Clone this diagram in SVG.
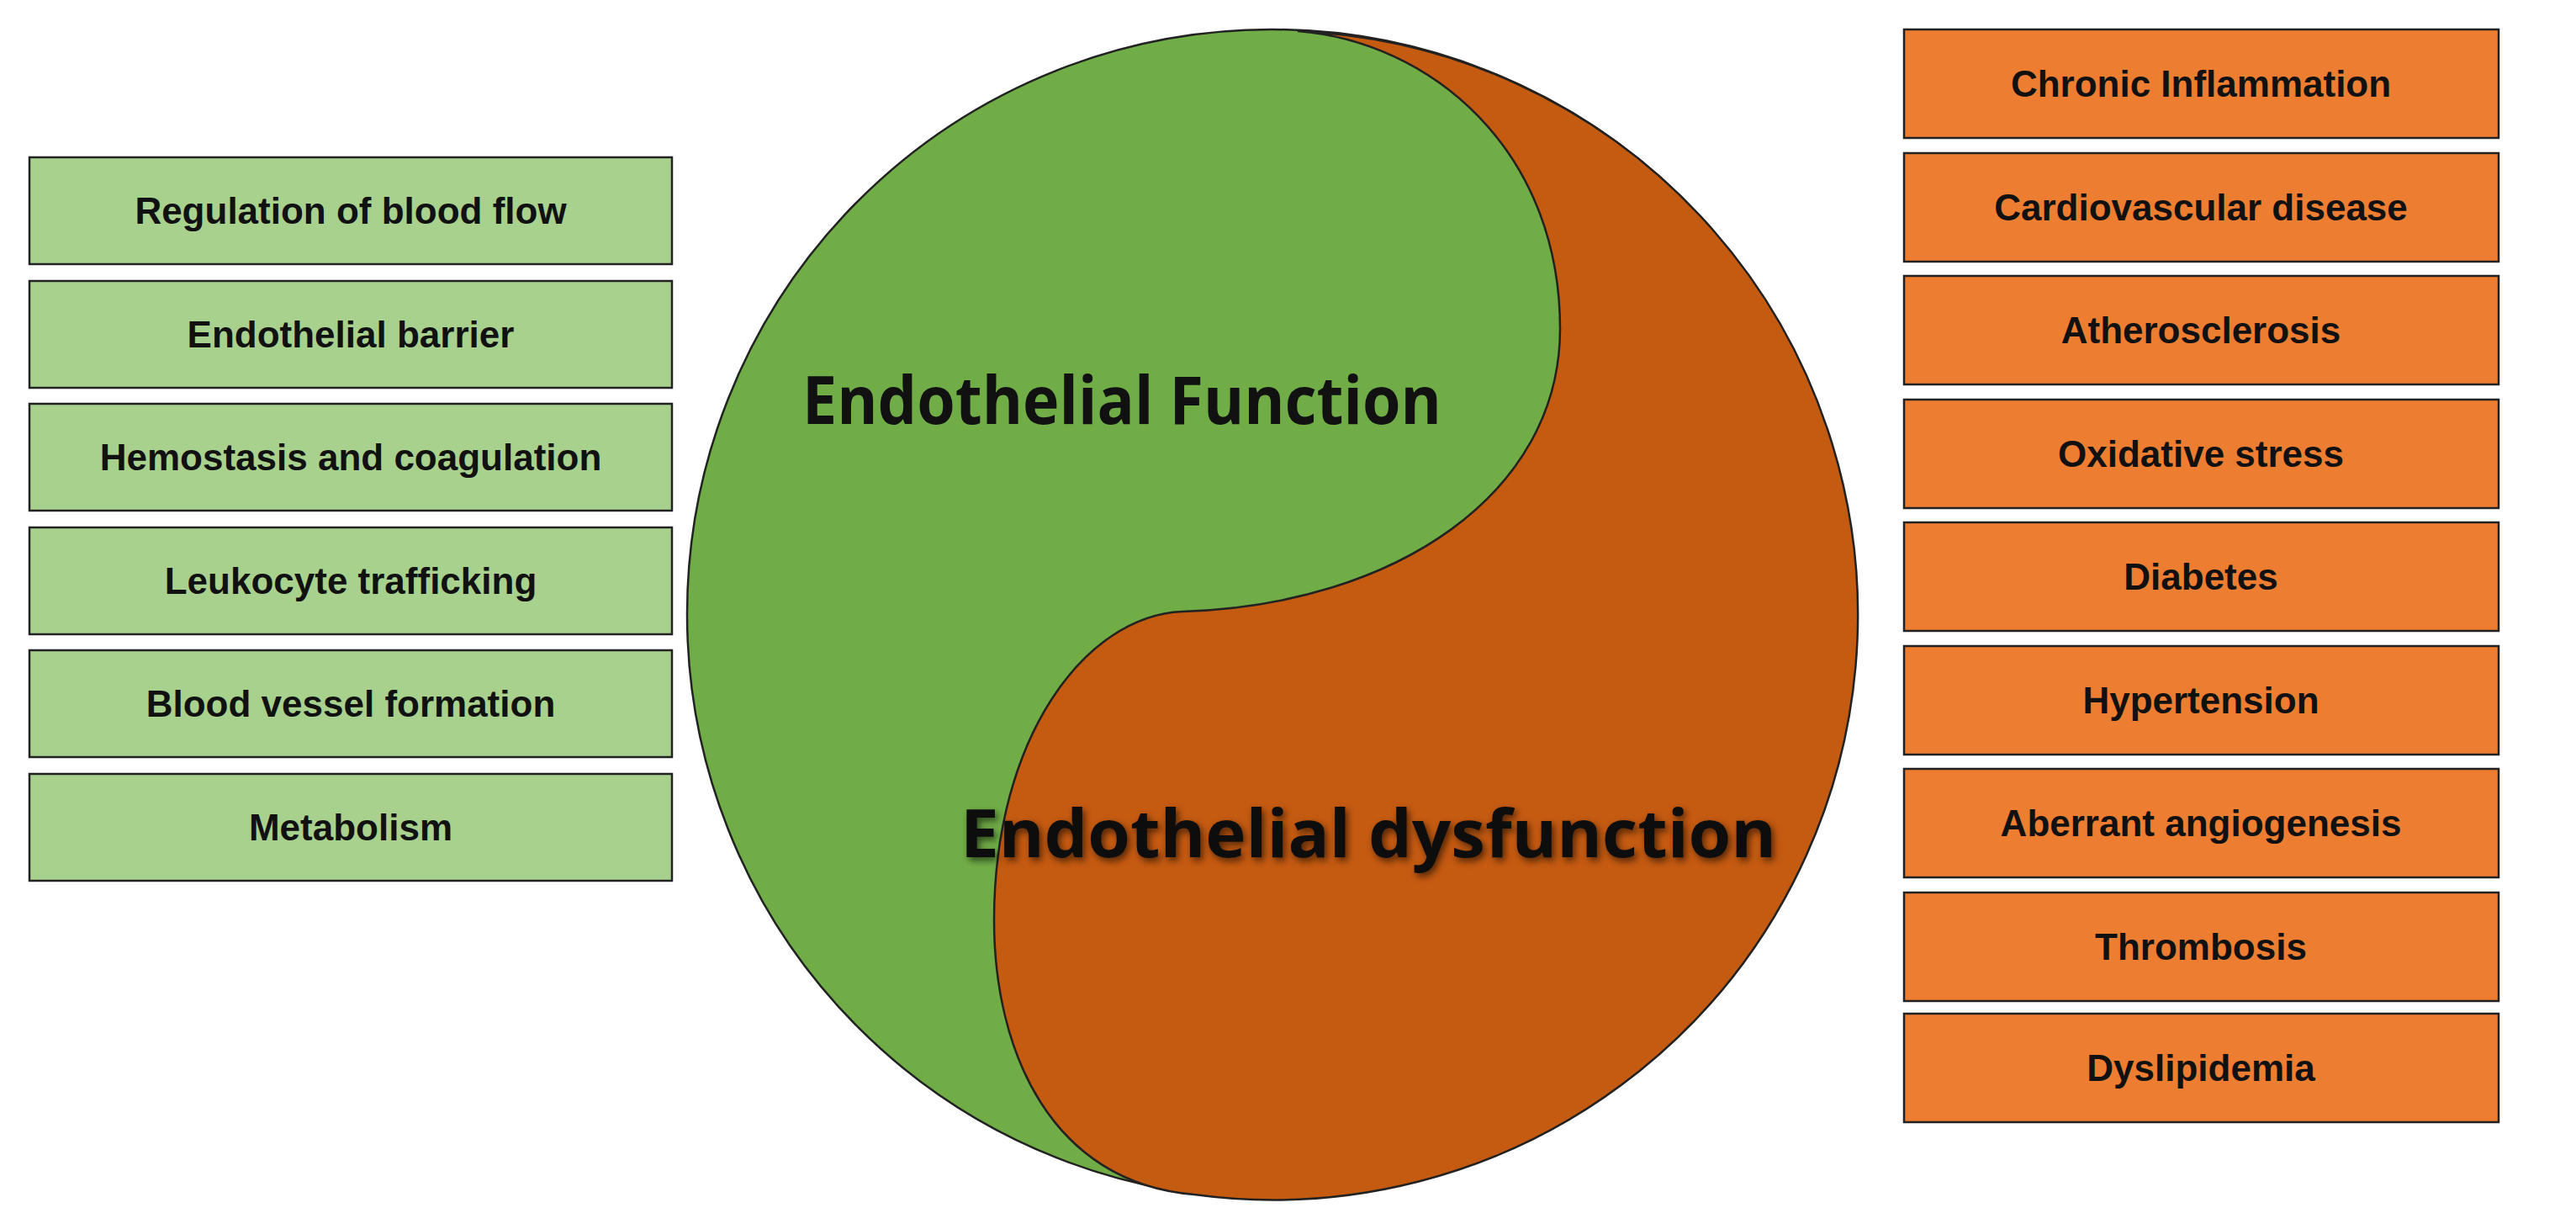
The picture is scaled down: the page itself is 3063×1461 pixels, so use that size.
<svg xmlns="http://www.w3.org/2000/svg" width="3063" height="1461" viewBox="0 0 3063 1461">
<style>
.g{fill:#A9D18E;stroke:#222;stroke-width:2.5}
.o{fill:#ED7D31;stroke:#222;stroke-width:2.5}
.t{font-family:"Liberation Sans",Arial,sans-serif;font-weight:bold;font-size:44px;fill:#111;text-anchor:middle}
.big{font-family:"Open Sans","Liberation Sans",sans-serif;font-weight:bold;font-size:78px;fill:#111;text-anchor:middle}
</style>
<defs><filter id="sh" x="-5%" y="-20%" width="110%" height="140%"><feGaussianBlur in="SourceAlpha" stdDeviation="4"/><feOffset dx="3" dy="4"/><feComponentTransfer><feFuncA type="linear" slope="0.6"/></feComponentTransfer><feMerge><feMergeNode/><feMergeNode in="SourceGraphic"/></feMerge></filter></defs>
<rect width="3063" height="1461" fill="#fff"/>
<g id="yinyang">
<circle cx="1512" cy="730" r="695" fill="#70AD47" stroke="#222" stroke-width="2.5"/>
<path d="M1543,37 A695,695 0 1 1 1420,1420 C1250,1406 1182,1250 1182,1094 C1182,879 1289,732 1406,727 C1660,719 1855,586 1855,391 C1855,176 1699,49 1543,37 Z" fill="#C55A11" stroke="#222" stroke-width="2.5"/>
<text class="big" x="1334" y="504" textLength="760" lengthAdjust="spacingAndGlyphs">Endothelial Function</text>
<text class="big" x="1627" y="1019" textLength="970" lengthAdjust="spacingAndGlyphs" filter="url(#sh)">Endothelial dysfunction</text>
</g>
<g id="left">
<g id="l1"><rect class="g" x="35" y="187" width="764" height="127"/><text class="t" x="417" y="266">Regulation of blood flow</text></g>
<g id="l2"><rect class="g" x="35" y="334" width="764" height="127"/><text class="t" x="417" y="413">Endothelial barrier</text></g>
<g id="l3"><rect class="g" x="35" y="480" width="764" height="127"/><text class="t" x="417" y="559">Hemostasis and coagulation</text></g>
<g id="l4"><rect class="g" x="35" y="627" width="764" height="127"/><text class="t" x="417" y="706">Leukocyte trafficking</text></g>
<g id="l5"><rect class="g" x="35" y="773" width="764" height="127"/><text class="t" x="417" y="852">Blood vessel formation</text></g>
<g id="l6"><rect class="g" x="35" y="920" width="764" height="127"/><text class="t" x="417" y="999">Metabolism</text></g>
</g>
<g id="right">
<g id="r1"><rect class="o" x="2264" y="35" width="707" height="129"/><text class="t" x="2617" y="115">Chronic Inflammation</text></g>
<g id="r2"><rect class="o" x="2264" y="182" width="707" height="129"/><text class="t" x="2617" y="262">Cardiovascular disease</text></g>
<g id="r3"><rect class="o" x="2264" y="328" width="707" height="129"/><text class="t" x="2617" y="408">Atherosclerosis</text></g>
<g id="r4"><rect class="o" x="2264" y="475" width="707" height="129"/><text class="t" x="2617" y="555">Oxidative stress</text></g>
<g id="r5"><rect class="o" x="2264" y="621" width="707" height="129"/><text class="t" x="2617" y="701">Diabetes</text></g>
<g id="r6"><rect class="o" x="2264" y="768" width="707" height="129"/><text class="t" x="2617" y="848">Hypertension</text></g>
<g id="r7"><rect class="o" x="2264" y="914" width="707" height="129"/><text class="t" x="2617" y="994">Aberrant angiogenesis</text></g>
<g id="r8"><rect class="o" x="2264" y="1061" width="707" height="129"/><text class="t" x="2617" y="1141">Thrombosis</text></g>
<g id="r9"><rect class="o" x="2264" y="1205" width="707" height="129"/><text class="t" x="2617" y="1285">Dyslipidemia</text></g>
</g>
<g id="connectors"/>
</svg>
